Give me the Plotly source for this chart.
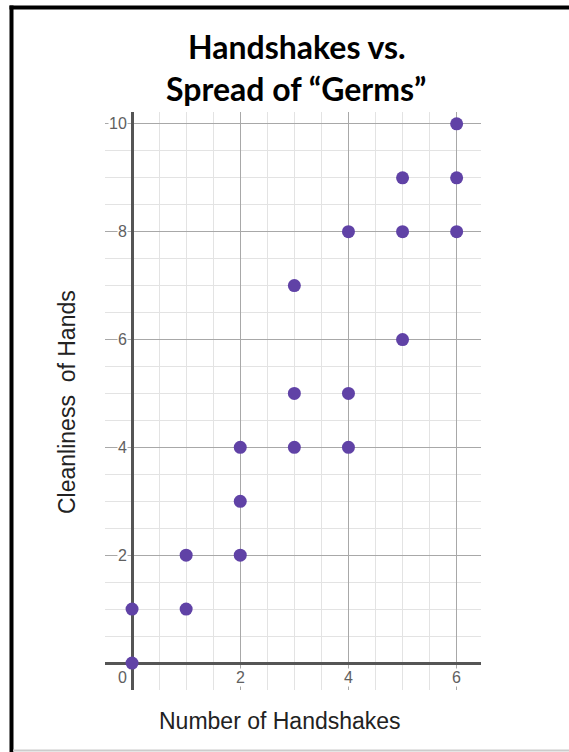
import plotly.graph_objects as go

handshakes = [0, 0, 1, 1, 2, 2, 2, 3, 3, 3, 4, 4, 4, 5, 5, 5, 6, 6, 6]
cleanliness = [0, 1, 1, 2, 2, 3, 4, 4, 5, 7, 4, 5, 8, 6, 8, 9, 8, 9, 10]
x_ticks = [0, 2, 4, 6]
y_ticks = [2, 4, 6, 8, 10]

W, H = 569, 752
L, R, T, B = 105, 88, 112, 62
PW, PH = W - L - R, H - T - B


def px(x):
    return (x - L) / PW


def py(y):
    return (H - B - y) / PH


fig = go.Figure()
fig.add_trace(go.Scatter(
    x=handshakes, y=cleanliness, mode="markers",
    marker=dict(size=13, color="#6042a6", line=dict(width=0)),
    hoverinfo="x+y", showlegend=False,
))

tick_font = dict(family="Liberation Sans, Arial", size=16, color="#606060")
ann = []
for t in x_ticks:
    ann.append(dict(x=t, y=0, xref="x", yref="y", text=str(t), showarrow=False,
                    xanchor="right" if t == 0 else "center", yanchor="top",
                    xshift=-4 if t == 0 else 0, yshift=-5,
                    font=tick_font, bgcolor="white", borderpad=0))
for t in y_ticks:
    ann.append(dict(x=0, y=t, xref="x", yref="y", text=str(t), showarrow=False,
                    xanchor="right", yanchor="middle", xshift=-4,
                    font=tick_font, bgcolor="white", borderpad=0))

title_font = dict(family="Lato, Open Sans", size=32, color="black")
ann.append(dict(x=px(297), y=py(46), xref="paper", yref="paper",
                text="<b>Handshakes vs.</b>", showarrow=False,
                xanchor="center", yanchor="middle", font=title_font))
ann.append(dict(x=px(296), y=py(89), xref="paper", yref="paper",
                text="<b>Spread of \u201cGerms\u201d</b>", showarrow=False,
                xanchor="center", yanchor="middle", font=title_font))
axis_font = dict(family="Liberation Sans, Arial", size=23, color="#222222")
ann.append(dict(x=px(280), y=py(721), xref="paper", yref="paper",
                text="Number of Handshakes", showarrow=False,
                xanchor="center", yanchor="middle", font=axis_font))
ann.append(dict(x=px(67), y=py(402), xref="paper", yref="paper",
                text="Cleanliness&nbsp;&nbsp;of Hands", showarrow=False, textangle=-90,
                xanchor="center", yanchor="middle", font=axis_font))

shapes = [
    dict(type="line", xref="paper", yref="paper", x0=px(11.5), x1=px(11.5),
         y0=py(5.5), y1=py(752), line=dict(color="black", width=4)),
    dict(type="line", xref="paper", yref="paper", x0=px(9.5), x1=px(569),
         y0=py(7.5), y1=py(7.5), line=dict(color="black", width=4)),
    dict(type="line", xref="paper", yref="paper", x0=px(13), x1=px(569),
         y0=py(750.5), y1=py(750.5), line=dict(color="#cccccc", width=2)),
]

axis_common = dict(
    showticklabels=False, ticks="", showline=False,
    showgrid=True, gridcolor="#a8a8a8", gridwidth=1.2,
    zeroline=True, zerolinecolor="#555555", zerolinewidth=2.5,
    tick0=0, dtick=2,
    minor=dict(dtick=0.5, tick0=0, showgrid=True, gridcolor="#e3e3e3", gridwidth=1),
    fixedrange=True,
)

fig.update_layout(
    width=W, height=H,
    margin=dict(l=L, r=R, t=T, b=B),
    paper_bgcolor="white", plot_bgcolor="white",
    xaxis=dict(range=[-0.5, 6.45], **axis_common),
    yaxis=dict(range=[-0.5, 10.22], **axis_common),
    annotations=ann, shapes=shapes,
)

fig.write_html(
    "out.html",
    config={"displayModeBar": False},
    post_script="document.body.style.margin='0px';document.body.style.overflow='hidden';",
)
